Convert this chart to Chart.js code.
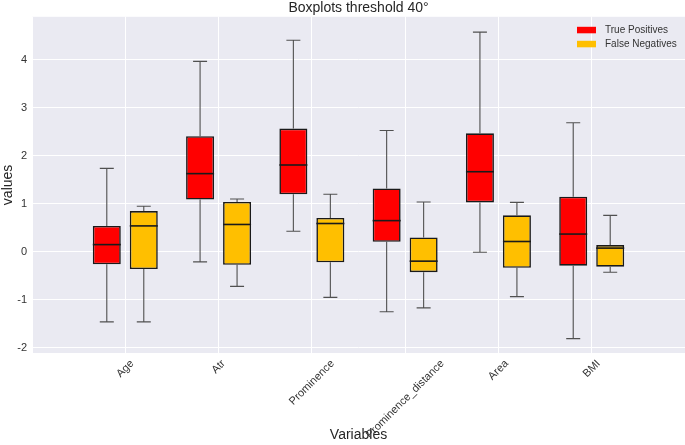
<!DOCTYPE html>
<html>
<head>
<meta charset="utf-8">
<script src="https://cdn.jsdelivr.net/npm/chart.js@4/dist/chart.umd.min.js"></script>
<style>
  html, body { margin: 0; padding: 0; background: #ffffff; }
  #wrap { width: 685px; height: 445px; }
</style>
</head>
<body>
<div id="wrap"><canvas id="c" width="685" height="445"></canvas></div>
<script>
// ---- data ----
const categories = ['Age', 'Atr', 'Prominence', 'Prominence_distance', 'Area', 'BMI'];
const seriesNames = ['True Positives', 'False Negatives'];

const tpLow    = [-1.46, -0.21, 0.43, -1.25, -0.01, -1.81];
const tpQ1     = [-0.26,  1.09, 1.20,  0.21,  1.03, -0.29];
const tpMedian = [ 0.15,  1.63, 1.81,  0.65,  1.67,  0.37];
const tpQ3     = [ 0.54,  2.41, 2.57,  1.32,  2.47,  1.15];
const tpHigh   = [ 1.74,  3.97, 4.41,  2.53,  4.58,  2.69];

const fnLow    = [-1.46, -0.72, -0.95, -1.17, -0.935, -0.425];
const fnQ1     = [-0.36, -0.27, -0.22, -0.425, -0.335, -0.31];
const fnMedian = [ 0.54,  0.57,  0.59, -0.195,  0.215,  0.077];
const fnQ3     = [ 0.85,  1.04,  0.705, 0.30,   0.76,   0.14];
const fnHigh   = [ 0.95,  1.10,  1.20,  1.04,   1.03,   0.76];

const yTicks = [-2, -1, 0, 1, 2, 3, 4];

// ---- build library structures ----
const paddedLabels = [''].concat(categories, ['']);
function boxData(q1, q3) {
  return [null].concat(q1.map((v, i) => [v, q3[i]]), [null]);
}
function pad(arr) { return [null].concat(arr, [null]); }

const FONT = '"Liberation Sans", Arial, Helvetica, sans-serif';

const bgPlugin = {
  id: 'bg',
  beforeDraw(chart) {
    const {ctx, chartArea: a} = chart;
    ctx.save();
    ctx.fillStyle = '#EAEAF2';
    ctx.fillRect(a.left, a.top, a.right - a.left, a.bottom - a.top);
    ctx.restore();
  }
};

function eachBox(chart, fn) {
  chart.data.datasets.forEach((ds, d) => {
    const meta = chart.getDatasetMeta(d);
    meta.data.forEach((el, i) => {
      if (ds.data[i] == null) return;
      fn(ds, el, i);
    });
  });
}

const boxPlugin = {
  id: 'boxparts',
  beforeDatasetsDraw(chart) {
    const ctx = chart.ctx, y = chart.scales.y;
    ctx.save();
    ctx.strokeStyle = '#505050';
    ctx.lineWidth = 1.1;
    eachBox(chart, (ds, el, i) => {
      const x = el.x, w = el.width;
      const pLow = y.getPixelForValue(ds.whiskerLow[i]);
      const pHigh = y.getPixelForValue(ds.whiskerHigh[i]);
      const pQ1 = y.getPixelForValue(ds.data[i][0]);
      const pQ3 = y.getPixelForValue(ds.data[i][1]);
      ctx.beginPath();
      ctx.moveTo(x, pQ1); ctx.lineTo(x, pLow);
      ctx.moveTo(x, pQ3); ctx.lineTo(x, pHigh);
      ctx.moveTo(x - w / 4, pLow); ctx.lineTo(x + w / 4, pLow);
      ctx.moveTo(x - w / 4, pHigh); ctx.lineTo(x + w / 4, pHigh);
      ctx.stroke();
    });
    ctx.restore();
  },
  afterDatasetsDraw(chart) {
    const ctx = chart.ctx, y = chart.scales.y;
    ctx.save();
    ctx.strokeStyle = '#1a1a1a';
    ctx.lineWidth = 1.6;
    eachBox(chart, (ds, el, i) => {
      const x = el.x, w = el.width;
      const pm = y.getPixelForValue(ds.medians[i]);
      ctx.beginPath();
      ctx.moveTo(x - w / 2, pm); ctx.lineTo(x + w / 2, pm);
      ctx.stroke();
    });
    ctx.restore();
  }
};

const labelPlugin = {
  id: 'xlabels',
  afterDraw(chart) {
    const ctx = chart.ctx, xs = chart.scales.x;
    ctx.save();
    ctx.font = '11px ' + FONT;
    ctx.fillStyle = '#333333';
    ctx.textAlign = 'center';
    ctx.textBaseline = 'middle';
    categories.forEach((lab, i) => {
      const px = xs.getPixelForValue(i + 1);
      const w = ctx.measureText(lab).width;
      const H = (w + 11) * Math.SQRT1_2;
      const cy = xs.top + 5 + H / 2;
      ctx.save();
      ctx.translate(px, cy);
      ctx.rotate(-Math.PI / 4);
      ctx.fillText(lab, 0, 0);
      ctx.restore();
    });
    ctx.restore();
  }
};

const legendPlugin = {
  id: 'boxlegend',
  afterDraw(chart) {
    const ctx = chart.ctx, a = chart.chartArea;
    ctx.save();
    ctx.font = '10px ' + FONT;
    ctx.textBaseline = 'middle';
    ctx.textAlign = 'left';
    chart.data.datasets.forEach((ds, d) => {
      const top = a.top + 10 + d * 14;
      ctx.fillStyle = ds.backgroundColor;
      ctx.fillRect(a.right - 108, top, 19, 6.5);
      ctx.fillStyle = '#333333';
      ctx.fillText(ds.label, a.right - 80, top + 3.5);
    });
    ctx.restore();
  }
};

new Chart(document.getElementById('c'), {
  type: 'bar',
  data: {
    labels: paddedLabels,
    datasets: [
      {
        label: seriesNames[0],
        data: boxData(tpQ1, tpQ3),
        medians: pad(tpMedian),
        whiskerLow: pad(tpLow),
        whiskerHigh: pad(tpHigh),
        backgroundColor: '#FF0000',
        borderColor: '#1a1a1a',
        borderWidth: 1.6,
        borderSkipped: false,
        categoryPercentage: 0.793,
        barPercentage: 0.757
      },
      {
        label: seriesNames[1],
        data: boxData(fnQ1, fnQ3),
        medians: pad(fnMedian),
        whiskerLow: pad(fnLow),
        whiskerHigh: pad(fnHigh),
        backgroundColor: '#FFBF00',
        borderColor: '#1a1a1a',
        borderWidth: 1.6,
        borderSkipped: false,
        categoryPercentage: 0.793,
        barPercentage: 0.757
      }
    ]
  },
  options: {
    responsive: false,
    animation: false,
    devicePixelRatio: 1,
    layout: { padding: 0 },
    plugins: {
      legend: { display: false },
      tooltip: { enabled: false },
      title: {
        display: true,
        text: 'Boxplots threshold 40°',
        fullSize: false,
        color: '#262626',
        font: { family: FONT, size: 14, weight: 'normal' },
        padding: { top: 0, bottom: 0 }
      }
    },
    scales: {
      x: {
        type: 'category',
        offset: false,
        grid: { color: '#ffffff', lineWidth: 1, drawTicks: false, offset: false },
        border: { display: false },
        ticks: { display: false },
        title: {
          display: true,
          text: 'Variables',
          color: '#262626',
          font: { family: FONT, size: 14 },
          padding: { top: 0, bottom: 1 }
        },
        afterFit(scale) { scale.height = 92; }
      },
      y: {
        type: 'linear',
        min: -2.11,
        max: 4.9,
        afterBuildTicks(scale) { scale.ticks = yTicks.map(v => ({ value: v })); },
        grid: { color: '#ffffff', lineWidth: 1, drawTicks: false },
        border: { display: false },
        ticks: {
          color: '#333333',
          padding: 5,
          font: { family: FONT, size: 11 }
        },
        title: {
          display: true,
          text: 'values',
          color: '#262626',
          font: { family: FONT, size: 14 },
          padding: 0
        },
        afterFit(scale) { scale.width = 32; }
      }
    }
  },
  plugins: [bgPlugin, boxPlugin, labelPlugin, legendPlugin]
});
</script>
</body>
</html>
